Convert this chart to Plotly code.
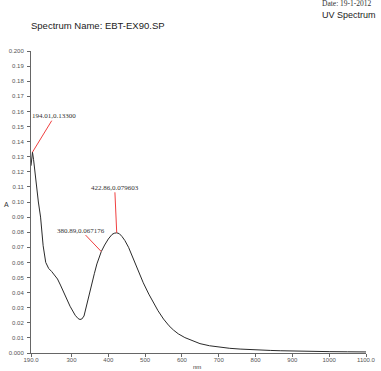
import plotly.graph_objects as go

wavelength_nm = [190, 192, 194, 197, 201, 206, 210, 216, 223, 230, 238, 246, 255, 262, 270, 282, 296,
                 310, 318, 323, 328, 334, 341, 348, 355, 362, 369, 375, 381, 390, 400, 410, 416, 423,
                 430, 437, 445, 455, 468, 480, 495, 510, 522, 535, 550, 565, 577, 590, 608, 630, 649,
                 675, 703, 730, 758, 785, 812, 840, 867, 895, 921, 960, 1000, 1050, 1100]
absorbance = [0.124, 0.130, 0.133, 0.128, 0.119, 0.108, 0.100, 0.090, 0.071, 0.060, 0.056, 0.054,
              0.051, 0.049, 0.045, 0.038, 0.031, 0.025, 0.0228, 0.0222, 0.0225, 0.0245, 0.032, 0.039,
              0.046, 0.0525, 0.059, 0.063, 0.0672, 0.0715, 0.0755, 0.0785, 0.0793, 0.0796, 0.0790,
              0.0772, 0.0745, 0.070, 0.0625, 0.055, 0.0465, 0.039, 0.0335, 0.028, 0.0225, 0.018,
              0.0152, 0.0127, 0.0102, 0.0078, 0.0062, 0.0048, 0.0038, 0.0031, 0.0026, 0.0022, 0.0019,
              0.0017, 0.0015, 0.0013, 0.0012, 0.0010, 0.0009, 0.0008, 0.0007]

peak_x = [194.01, 422.86, 380.89]
peak_y = [0.13300, 0.079603, 0.067176]
peak_labels = ["194.01,0.13300", "422.86,0.079603", "380.89,0.067176"]

x_tickvals = [190, 300, 400, 500, 600, 700, 800, 900, 1000, 1100]
x_ticktext = ["190.0", "300", "400", "500", "600", "700", "800", "900", "1000", "1100.0"]
y_tickvals = [i / 100 for i in range(21)]
y_ticktext = ["0.000"] + [f"{v:.2f}" for v in y_tickvals[1:-1]] + ["0.200"]

W, H = 381, 371
L, R, T, B = 31, 15, 51, 18

def px(x):
    return (x - L) / (W - L - R)

def py(y):
    return (H - B - y) / (H - T - B)

fig = go.Figure()
fig.add_trace(go.Scatter(x=wavelength_nm, y=absorbance, mode="lines",
                         line=dict(color="#2a2a2a", width=1), showlegend=False, hoverinfo="skip"))

offsets = [(22, -36), (-2, -45), (-20, -21)]
for (xv, yv, lab), (ax, ay) in zip(zip(peak_x, peak_y, peak_labels), offsets):
    fig.add_annotation(x=xv, y=yv, xref="x", yref="y", text=lab, showarrow=True,
                       arrowhead=0, arrowwidth=1, arrowcolor="#f04040", ax=ax, ay=ay,
                       font=dict(family="Liberation Serif", size=7, color="#333333"), borderpad=0)

serif = "Liberation Serif"
sans = "Liberation Sans"
fig.add_annotation(x=px(30), y=py(25), xref="paper", yref="paper", text="Spectrum Name: EBT-EX90.SP",
                   showarrow=False, xanchor="left", yanchor="middle", borderpad=0,
                   font=dict(family=sans, size=9.5, color="#222222"))
fig.add_annotation(x=px(321), y=py(4), xref="paper", yref="paper", text="Date: 19-1-2012",
                   showarrow=False, xanchor="left", yanchor="middle", borderpad=0,
                   font=dict(family=serif, size=7.5, color="#333333"))
fig.add_annotation(x=px(321), y=py(15), xref="paper", yref="paper", text="UV Spectrum",
                   showarrow=False, xanchor="left", yanchor="middle", borderpad=0,
                   font=dict(family=sans, size=9, color="#222222"))
fig.add_annotation(x=px(6), y=py(205), xref="paper", yref="paper", text="A",
                   showarrow=False, xanchor="center", yanchor="middle",
                   font=dict(family=sans, size=7, color="#333333"))
fig.add_annotation(x=px(197), y=py(367), xref="paper", yref="paper", text="nm",
                   showarrow=False, xanchor="center", yanchor="middle",
                   font=dict(family=sans, size=6, color="#333333"))

fig.update_xaxes(range=[190, 1100], tickvals=x_tickvals, ticktext=x_ticktext, showgrid=False,
                 zeroline=False, showline=True, linecolor="#666666", linewidth=1,
                 ticks="outside", ticklen=3, tickcolor="#666666", automargin=False,
                 ticklabelstandoff=-2,
                 tickfont=dict(family=sans, size=6, color="#555555"))
fig.update_yaxes(range=[0, 0.2], tickvals=y_tickvals, ticktext=y_ticktext, showgrid=False,
                 zeroline=False, showline=True, linecolor="#666666", linewidth=1,
                 ticks="outside", ticklen=3, tickcolor="#666666", automargin=False,
                 ticklabelstandoff=2,
                 tickfont=dict(family=sans, size=6, color="#555555"))
fig.update_layout(width=W, height=H, margin=dict(l=L, r=R, t=T, b=B, autoexpand=False),
                  paper_bgcolor="white", plot_bgcolor="white", showlegend=False)
fig.write_html("out.html", config={"displayModeBar": False},
               post_script="document.body.style.margin='0';document.body.style.overflow='hidden';")
